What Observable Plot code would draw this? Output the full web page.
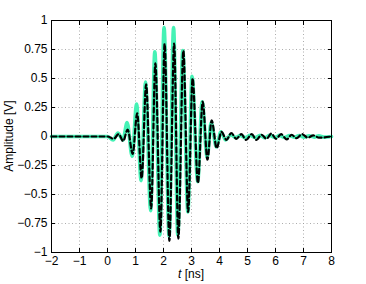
<!DOCTYPE html>
<html><head><meta charset="utf-8">
<script src="https://cdn.jsdelivr.net/npm/d3@7"></script>
<script src="https://cdn.jsdelivr.net/npm/@observablehq/plot@0.6"></script>
<style>body{margin:0;background:#fff}</style>
</head><body><div id="chart"></div>
<script>
// Green (solid) signal: time [ns] and amplitude [V] at the extrema
const greenT = [-2, 0, 0.20, 0.37, 0.55, 0.70, 0.88, 1.04, 1.20, 1.36, 1.54, 1.69, 1.87, 2.02, 2.20, 2.36, 2.51, 2.69, 2.87, 3.02, 3.22, 3.38, 3.56, 3.70, 3.89, 4.05, 4.22, 4.40, 4.58, 4.75, 4.92, 5.10, 5.28, 5.45, 5.62, 5.80, 5.98, 6.15, 6.32, 6.50, 6.68, 6.85, 7.02, 7.20, 7.38, 7.55, 7.72, 8];
const greenV = [0, 0, -0.03, 0.03, -0.03, 0.12, -0.17, 0.28, -0.38, 0.47, -0.64, 0.73, -0.85, 0.94, -0.86, 0.94, -0.85, 0.74, -0.65, 0.52, -0.39, 0.30, -0.18, 0.12, -0.09, 0.04, -0.03, 0.015, -0.01, 0.01, -0.01, 0.01, -0.01, 0.01, -0.01, 0.01, -0.008, 0.01, -0.008, 0.008, -0.006, 0.008, -0.006, 0.006, -0.005, 0.005, -0.005, 0];
// Black (dashed) signal
const blackT = [-2, 0, 0.22, 0.40, 0.56, 0.72, 0.90, 1.06, 1.22, 1.38, 1.56, 1.71, 1.89, 2.04, 2.21, 2.38, 2.53, 2.71, 2.88, 3.04, 3.23, 3.40, 3.57, 3.72, 3.90, 4.07, 4.25, 4.42, 4.60, 4.78, 4.95, 5.15, 5.32, 5.50, 5.68, 5.85, 6.02, 6.20, 6.40, 6.58, 6.75, 6.95, 7.15, 7.35, 7.55, 8];
const blackV = [0, 0, -0.02, 0.02, -0.04, 0.06, -0.15, 0.20, -0.36, 0.45, -0.62, 0.63, -0.82, 0.80, -0.90, 0.80, -0.88, 0.74, -0.65, 0.50, -0.40, 0.30, -0.20, 0.14, -0.10, 0.04, -0.03, 0.03, -0.02, 0.02, -0.03, 0.02, -0.03, 0.015, -0.02, 0.025, -0.02, 0.02, -0.025, 0.015, -0.015, 0.02, -0.01, 0.01, -0.01, 0];
const xTicks = [-2, -1, 0, 1, 2, 3, 4, 5, 6, 7, 8];
const yTicks = [-1, -0.75, -0.5, -0.25, 0, 0.25, 0.5, 0.75, 1];
const yLabel = "Amplitude [V]";

const green = greenT.map((t, i) => ({t, v: greenV[i]}));
const black = blackT.map((t, i) => ({t, v: blackV[i]}));
const fmt = d => d < 0 ? "\u2212" + Math.abs(d) : String(d);

const plot = Plot.plot({
  width: 366, height: 284,
  marginLeft: 51, marginRight: 35, marginTop: 20, marginBottom: 32,
  style: {fontFamily: "'Liberation Sans', Arial, sans-serif", fontSize: "11px", background: "#fff"},
  x: {domain: [-2, 8]},
  y: {domain: [-1, 1]},
  marks: [
    Plot.gridX(xTicks, {stroke: "#999", strokeOpacity: 0.8, strokeDasharray: "1,2.5"}),
    Plot.gridY(yTicks, {stroke: "#999", strokeOpacity: 0.8, strokeDasharray: "1,2.5"}),
    Plot.line(green, {x: "t", y: "v", curve: "monotone-x", stroke: "#45f2b5", strokeWidth: 3.6}),
    Plot.line(black, {x: "t", y: "v", curve: "monotone-x", stroke: "#000", strokeWidth: 2.2, strokeDasharray: "5,3"}),
    Plot.frame({stroke: "#000", strokeWidth: 1}),
    Plot.axisX(xTicks, {anchor: "bottom", tickSize: -4, tickPadding: 8, tickFormat: fmt, label: null, fontSize: 12}),
    Plot.axisX(xTicks, {anchor: "top", tickSize: -4, tickFormat: () => "", label: null}),
    Plot.axisY(yTicks, {anchor: "left", tickSize: -4, tickPadding: 8, tickFormat: fmt, label: null, fontSize: 12}),
    Plot.axisY(yTicks, {anchor: "right", tickSize: -4, tickFormat: () => "", label: null})
  ]
});
document.getElementById("chart").appendChild(plot);
const svg = d3.select(plot);
const xl = svg.append("text").attr("x", 191).attr("y", 278).attr("text-anchor", "middle")
  .attr("font-size", 12).attr("fill", "#000");
xl.append("tspan").attr("font-style", "italic").text("t");
xl.append("tspan").text(" [ns]");
svg.append("text").attr("transform", "translate(13,136) rotate(-90)").attr("text-anchor", "middle")
  .attr("font-size", 12).attr("fill", "#000").text(yLabel);
</script></body></html>
